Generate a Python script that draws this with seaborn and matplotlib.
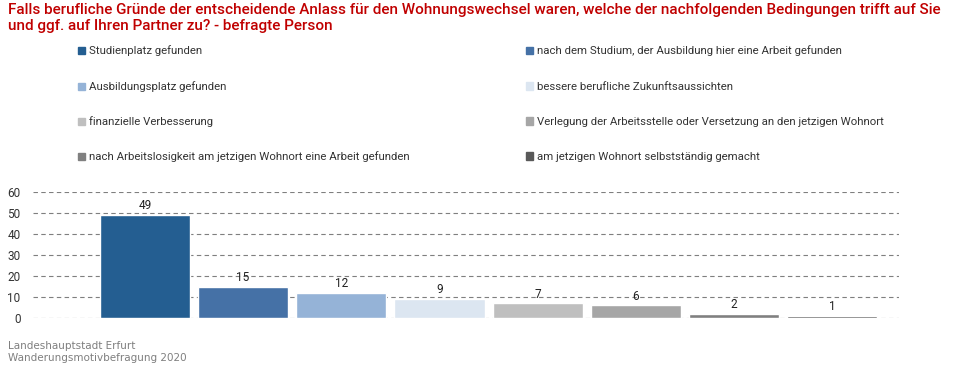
import matplotlib
matplotlib.use("Agg")
import matplotlib.pyplot as plt
import seaborn as sns
import pandas as pd

# Daten
categories = [
    "Studienplatz gefunden",
    "nach dem Studium, der Ausbildung hier eine Arbeit gefunden",
    "Ausbildungsplatz gefunden",
    "bessere berufliche Zukunftsaussichten",
    "finanzielle Verbesserung",
    "Verlegung der Arbeitsstelle oder Versetzung an den jetzigen Wohnort",
    "nach Arbeitslosigkeit am jetzigen Wohnort eine Arbeit gefunden",
    "am jetzigen Wohnort selbstständig gemacht",
]
values = [49, 15, 12, 9, 7, 6, 2, 1]
colors = ["#245e91", "#4571a6", "#95b3d7", "#dce6f1",
          "#bfbfbf", "#a6a6a6", "#808080", "#595959"]
yticks = [0, 10, 20, 30, 40, 50, 60]

title = ("Falls berufliche Gründe der entscheidende Anlass für den Wohnungswechsel waren, welche der nachfolgenden Bedingungen trifft auf Sie\n"
         "und ggf. auf Ihren Partner zu? - befragte Person")
source = "Landeshauptstadt Erfurt\nWanderungsmotivbefragung 2020"

df = pd.DataFrame({"Grund": categories, "Anteil": values})

sns.set_style("white")
plt.rcParams["font.family"] = ["Roboto", "DejaVu Sans"]

fig = plt.figure(figsize=(9.6, 3.7), dpi=100)
ax = fig.add_axes([33 / 960, 1 - 318 / 370, (899 - 33) / 960, 126 / 370])

sns.barplot(data=df, x="Grund", y="Anteil", hue="Grund", palette=colors,
            saturation=1, width=0.92, legend=False, ax=ax, zorder=2)

ax.set_ylim(0, 60)
ax.set_xlim(-1.14, 7.68)
ax.set_yticks(yticks)
ax.set_xticks([])
ax.set_xlabel("")
ax.set_ylabel("")
ax.grid(axis="y", linestyle=(0, (4, 3)), color="#7f7f7f", linewidth=0.8, zorder=0)
ax.set_axisbelow(True)
ax.tick_params(axis="y", length=0, labelsize=8.5, labelcolor="#333333", pad=9)
for s in ax.spines.values():
    s.set_visible(False)

for c in ax.containers:
    ax.bar_label(c, fmt="%d", padding=2, fontsize=8.5, color="#222222")

# Legende: zwei Spalten, vier Zeilen
row_y = [51, 87, 122, 157]
col_x = [78, 526]
for i, (lab, col) in enumerate(zip(categories, colors)):
    h = plt.Rectangle((0, 0), 1, 1, color=col)
    leg = fig.legend([h], [lab], loc="center left",
                     bbox_to_anchor=(col_x[i % 2] / 960, 1 - row_y[i // 2] / 370),
                     frameon=False, fontsize=8.2, handlelength=0.6, handleheight=0.6,
                     handletextpad=0.4, borderaxespad=0, borderpad=0)
    leg.get_texts()[0].set_color("#333333")

fig.text(8 / 960, 1 - 3 / 370, title, ha="left", va="top", fontsize=11,
         color="#c00000", fontweight="medium", linespacing=1.22)
fig.text(8 / 960, 1 - 341 / 370, source, ha="left", va="top", fontsize=7.5,
         color="#7f7f7f", family=["DejaVu Sans"], linespacing=1.3)

fig.savefig("out.png", dpi=100)
